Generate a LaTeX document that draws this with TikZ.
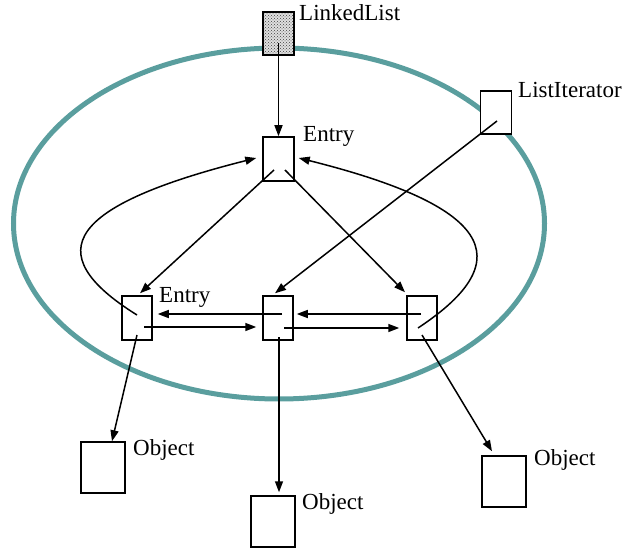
\documentclass[tikz,border=0pt]{standalone}
\usepackage{fontspec}
\setmainfont{Liberation Serif}
\usetikzlibrary{arrows.meta,patterns,calc}
\definecolor{ellcol}{RGB}{90,158,158}
\begin{document}
\begin{tikzpicture}[x=1pt,y=-1pt,
  box/.style={draw,line width=1.5pt,fill=white,inner sep=0pt,minimum width=30pt,minimum height=44pt},
  objbox/.style={draw,line width=1.5pt,fill=white,inner sep=0pt,minimum width=44pt,minimum height=51pt},
  lbl/.style={anchor=base west,inner sep=0pt,font=\fontsize{23}{27}\selectfont},
  conn/.style={line width=1.5pt,-{Triangle[length=11pt,width=8pt]}}]
\useasboundingbox (0,0) rectangle (623,548);
\draw[ellcol,line width=5pt] (279,223.5) ellipse [x radius=265.5, y radius=175.5];

\node[box,minimum width=31pt,minimum height=43pt,preaction={fill=gray!25},pattern=crosshatch dots,pattern color=black!75] (ll) at (278.5,33.5) {};
\node[box,minimum width=31pt] (te) at (278.5,159) {};
\node[box] (le) at (137,318) {};
\node[box] (me) at (278,318) {};
\node[box] (re) at (422,318) {};
\node[box,minimum width=31pt,minimum height=43pt] (li) at (496,112.5) {};
\node[objbox] (ol) at (103,467.5) {};
\node[objbox] (om) at (273,521.5) {};
\node[objbox] (or) at (504,481.5) {};

\node[lbl] (tll) at (299,21) {LinkedList};
\node[lbl] (tte) at (303,142) {Entry};
\node[lbl] (tle) at (159,302) {Entry};
\node[lbl] (tli) at (518,98) {ListIterator};
\node[lbl] (tol) at (133,455) {Object};
\node[lbl] (tom) at (302,509) {Object};
\node[lbl] (tor) at (534,465) {Object};

% start points inside boxes
\coordinate (sll) at ($(ll)+(0,9.5)$);
\coordinate (ste1) at ($(te)+(-4.5,11)$);
\coordinate (ste2) at ($(te)+(6.5,11)$);
\coordinate (sli) at ($(li)+(1,8.5)$);
\coordinate (sle1) at (137,315);
\coordinate (sle2) at (144,327);
\coordinate (sle3) at (137,335);
\coordinate (sme1) at (282,314);
\coordinate (sme2) at (284,328);
\coordinate (sme3) at (279,337);
\coordinate (sre1) at (418,328);
\coordinate (sre2) at (421,314);
\coordinate (sre3) at (422,335);

\draw[conn] (sll) -- (te.north);
\draw[conn] (ste1) -- ($(le.north)+(3,-2)$);
\draw[conn] (ste2) -- ($(re.north)+(-17,-3)$);
\draw[conn] (sli) -- ($(me.north)+(-3,-2)$);
\draw[conn] (sle1) .. controls (36,252) and (70,205) .. ($(te.west)+(-6,-1)$);
\draw[conn] (sre1) .. controls (524,258) and (487,205) .. ($(te.east)+(4,-1)$);
\draw[conn] (sme1) -- ($(le.east)+(5,-4)$);
\draw[conn] (sle2) -- ($(me.west)+(-6,9)$);
\draw[conn] (sre2) -- ($(me.east)+(3,-4)$);
\draw[conn] (sme2) -- ($(re.west)+(-7,10)$);
\draw[conn] (sle3) -- ($(ol.north)+(9,0)$);
\draw[conn] (sme3) -- ($(om.north)+(6,-3)$);
\draw[conn] (sre3) -- ($(or.north)+(-12,-4)$);
\end{tikzpicture}
\end{document}
